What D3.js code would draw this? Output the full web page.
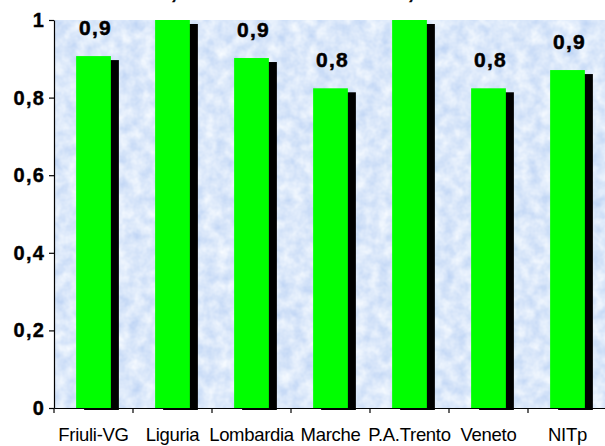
<!DOCTYPE html>
<html>
<head>
<meta charset="utf-8">
<script src="https://cdn.jsdelivr.net/npm/d3@7"></script>
<style>
  body { margin: 0; background: #fff; }
  svg { display: block; font-family: "Liberation Sans", Arial, sans-serif; }
</style>
</head>
<body>
<div id="chart"></div>
<script>
// chart data
var categories = ["Friuli-VG", "Liguria", "Lombardia", "Marche", "P.A.Trento", "Veneto", "NITp"];
var values = [0.907, 1.0, 0.902, 0.824, 1.0, 0.824, 0.871];
var yTicks = [0, 0.2, 0.4, 0.6, 0.8, 1];

var outerWidth = 605;
var outerHeight = 446;
var margin = { left: 54, top: 20, right: -2, bottom: 38 };
var innerWidth = outerWidth - margin.left - margin.right;
var innerHeight = outerHeight - margin.top - margin.bottom;

var it = d3.formatLocale({ decimal: ",", thousands: ".", grouping: [3], currency: ["", "€"] });
var tickFormat = it.format("~g");
var labelFormat = it.format(".1f");

var svg = d3.select("#chart").append("svg")
    .attr("width", outerWidth)
    .attr("height", outerHeight);

// mottled light blue background
var defs = svg.append("defs");
var filter = defs.append("filter").attr("id", "paper")
    .attr("x", 0).attr("y", 0).attr("width", 1).attr("height", 1)
    .attr("color-interpolation-filters", "sRGB");
filter.append("feTurbulence")
    .attr("type", "fractalNoise")
    .attr("baseFrequency", 0.08)
    .attr("numOctaves", 3)
    .attr("seed", 4)
    .attr("result", "noise");
filter.append("feColorMatrix")
    .attr("in", "noise")
    .attr("type", "matrix")
    .attr("values", "0 0 0 0.26 0.73  0 0 0 0.18 0.82  0 0 0 0.05 0.955  0 0 0 0 1");

var g = svg.append("g")
    .attr("transform", "translate(" + margin.left + "," + margin.top + ")");

g.append("rect")
    .attr("width", innerWidth)
    .attr("height", innerHeight)
    .attr("fill", "#dce9fa")
    .attr("filter", "url(#paper)");

var x = d3.scaleBand()
    .domain(categories)
    .range([0, innerWidth])
    .paddingInner(0.56)
    .paddingOuter(0.28);

// same bands without padding, for tick positions between categories
var xCell = d3.scaleBand()
    .domain(categories)
    .range([0, innerWidth]);

var y = d3.scaleLinear()
    .domain([0, 1])
    .range([innerHeight, 0]);

var shadowDx = 8, shadowDy = 4;

var bars = g.append("g").selectAll("g.bar")
    .data(categories)
    .enter().append("g")
    .attr("class", "bar");

bars.append("rect")
    .attr("x", function(d) { return x(d) + shadowDx; })
    .attr("y", function(d, i) { return y(values[i]) + shadowDy; })
    .attr("width", x.bandwidth())
    .attr("height", function(d, i) { return y(0) - y(values[i]) - shadowDy + 2; })
    .attr("fill", "#000");

bars.append("rect")
    .attr("x", function(d) { return x(d); })
    .attr("y", function(d, i) { return y(values[i]); })
    .attr("width", x.bandwidth())
    .attr("height", function(d, i) { return y(0) - y(values[i]); })
    .attr("fill", "#00ff00");

// value labels
g.append("g").selectAll("text")
    .data(categories)
    .enter().append("text")
    .attr("x", function(d) { return x(d) + x.bandwidth() / 2 + 2; })
    .attr("y", function(d, i) { return y(values[i]) - 21; })
    .attr("text-anchor", "middle")
    .attr("font-size", 21)
    .attr("font-weight", "bold")
    .attr("letter-spacing", 1.2)
    .attr("stroke", "#000")
    .attr("stroke-width", 0.5)
    .attr("fill", "#000")
    .text(function(d, i) { return labelFormat(values[i]); });

// y axis
var yAxis = d3.axisLeft(y)
    .tickValues(yTicks)
    .tickFormat(tickFormat)
    .tickSize(5)
    .tickSizeOuter(0)
    .tickPadding(4);

var yAxisG = g.append("g").call(yAxis);
yAxisG.select(".domain").attr("stroke", "#000").attr("stroke-width", 1.2);
yAxisG.selectAll(".tick line").attr("stroke", "#000").attr("stroke-width", 1.2);
yAxisG.selectAll(".tick text")
    .attr("font-size", 20)
    .attr("font-weight", "bold")
    .attr("letter-spacing", 1.2)
    .attr("stroke", "#000")
    .attr("stroke-width", 0.4)
    .attr("font-family", "Liberation Sans, Arial, sans-serif")
    .attr("fill", "#000");

// x axis
var xAxis = d3.axisBottom(x)
    .tickSize(0)
    .tickSizeOuter(0)
    .tickPadding(20);

var xAxisG = g.append("g")
    .attr("transform", "translate(0," + innerHeight + ")")
    .call(xAxis);
xAxisG.select(".domain").attr("stroke", "#000").attr("stroke-width", 1.2);
xAxisG.selectAll(".tick text")
    .attr("font-size", 18.5)
    .attr("font-family", "Liberation Sans, Arial, sans-serif")
    .attr("letter-spacing", "-0.3")
    .attr("fill", "#000");

xAxisG.selectAll("line.sep")
    .data(categories)
    .enter().append("line")
    .attr("class", "sep")
    .attr("x1", function(d) { return xCell(d); })
    .attr("x2", function(d) { return xCell(d); })
    .attr("y1", 0)
    .attr("y2", 5)
    .attr("stroke", "#000")
    .attr("stroke-width", 1.2);
</script>
</body>
</html>
